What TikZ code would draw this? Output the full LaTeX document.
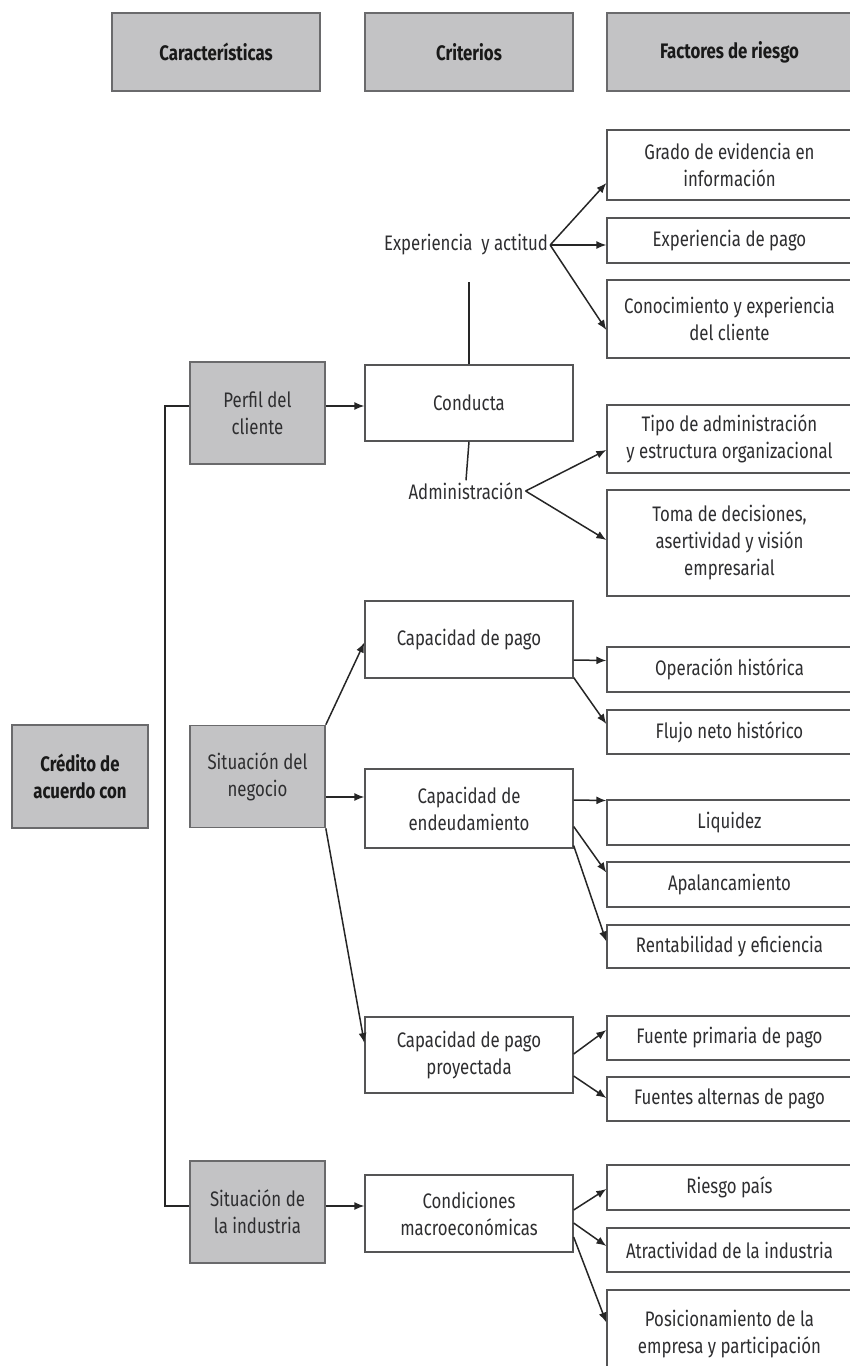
\documentclass[tikz,border=0pt]{standalone}
\usepackage{fontspec}
\setmainfont[FakeStretch=0.8]{Fira Sans}
\usetikzlibrary{arrows.meta,calc}
\definecolor{boxgray}{HTML}{C3C3C5}
\definecolor{edgegray}{HTML}{6A6A6C}
\definecolor{txt}{HTML}{2E2E30}
\begin{document}
\begin{tikzpicture}[x=1pt,y=-1pt,
  every node/.style={font=\fontsize{21}{27}\selectfont, text=txt, align=center, inner sep=2pt},
  gbox/.style={draw=edgegray, line width=1.6pt, fill=boxgray},
  hdr/.style={gbox, font=\fontsize{21}{27}\selectfont\bfseries, text=black!90},
  wbox/.style={draw=edgegray!80!black, line width=1.3pt, fill=white},
  rbox/.style={wbox, minimum width=245},
  cbox/.style={wbox, minimum width=208},
  kbox/.style={gbox, minimum width=135, minimum height=102},
  arr/.style={-{Latex[length=10pt,width=8pt]}, line width=1.5pt, draw=black!85},
  ln/.style={line width=1.5pt, draw=black!85}
]
\useasboundingbox (0,0) rectangle (850,1366);
% headers
\node[hdr, minimum width=208, minimum height=78] (hcar) at (216,52) {Características};
\node[hdr, minimum width=208, minimum height=78] (hcri) at (469,52) {Criterios};
\node[hdr, minimum width=245, minimum height=78] (hfac) at (729.5,52) {Factores de riesgo};
% characteristics
\node[hdr, minimum width=136, minimum height=103] (credito) at (80,776.5) {Crédito de\\acuerdo con};
\node[kbox] (perfil) at (257.5,413) {Perfil del\\cliente};
\node[kbox] (sitneg) at (257.5,776.5) {Situación del\\negocio};
\node[kbox] (sitind) at (257.5,1212) {Situación de\\la industria};
% criteria
\node[cbox, minimum height=76] (conducta) at (469,403) {Conducta};
\node[cbox, minimum height=77] (cappago) at (469,639.5) {Capacidad de pago};
\node[cbox, minimum height=79] (capend) at (469,808.5) {Capacidad de\\endeudamiento};
\node[cbox, minimum height=76] (cappro) at (469,1055) {Capacidad de pago\\proyectada};
\node[cbox, minimum height=77] (condmac) at (469,1213.5) {Condiciones\\macroeconómicas};
\node (expact) at (466,245) {Experiencia\ \ y actitud};
\node (admin) at (466,491) {Administración};
% risk factors
\node[rbox, minimum height=70] (grado) at (729.5,165) {Grado de evidencia en\\información};
\node[rbox, minimum height=45] (exppago) at (729.5,240.5) {Experiencia de pago};
\node[rbox, minimum height=78] (conoc) at (729.5,319) {Conocimiento y experiencia\\del cliente};
\node[rbox, minimum height=68] (tipo) at (729.5,439) {Tipo de administración\\y estructura organizacional};
\node[rbox, minimum height=106] (toma) at (729.5,543) {Toma de decisiones,\\asertividad y visión\\empresarial};
\node[rbox, minimum height=45] (operacion) at (729.5,669.5) {Operación histórica};
\node[rbox, minimum height=44] (flujo) at (729.5,732) {Flujo neto histórico};
\node[rbox, minimum height=45] (liquidez) at (729.5,822.5) {Liquidez};
\node[rbox, minimum height=45] (apal) at (729.5,884.5) {Apalancamiento};
\node[rbox, minimum height=43] (rent) at (729.5,946.5) {Rentabilidad y eficiencia};
\node[rbox, minimum height=44] (fprim) at (729.5,1038) {Fuente primaria de pago};
\node[rbox, minimum height=44] (falt) at (729.5,1099) {Fuentes alternas de pago};
\node[rbox, minimum height=45] (riesgo) at (729.5,1187.5) {Riesgo país};
\node[rbox, minimum height=44] (atract) at (729.5,1250) {Atractividad de la industria};
\node[rbox, minimum height=84, text depth=0pt] (posic) at (729.5,1332) {Posicionamiento de la\\empresa y participación};
% connectors
\draw[ln] ($(perfil.west)+(0,-7)$) -- ++(-24,0) |- ($(sitind.west)+(0,-6)$);
\draw[arr] ($(perfil.east)+(0,-7)$) -- ($(conducta.west)+(0,3)$);
\draw[arr] ($(sitind.east)+(0,-6)$) -- ($(condmac.west)+(0,-7.5)$);
\draw[ln] (conducta.north) -- ++(0,-82);
\draw[ln] (conducta.south) -- (admin.north);
\draw[arr] (expact.east) -- ($(grado.west)+(0,18)$);
\draw[arr] (expact.east) -- ($(exppago.west)+(0,4.5)$);
\draw[arr] (expact.east) -- ($(conoc.west)+(0,11)$);
\draw[arr] (admin.east) -- ($(tipo.west)+(0,11)$);
\draw[arr] (admin.east) -- ($(toma.west)+(0,-3)$);
\draw[arr] (sitneg.north east) -- ($(cappago.west)+(0,3)$);
\draw[arr] ($(sitneg.east)+(0,20.5)$) -- ($(capend.west)+(0,-11.5)$);
\draw[arr] (sitneg.south east) -- ($(cappro.west)+(0,-12)$);
\draw[arr] ($(cappago.east)+(0,20.5)$) -- ($(operacion.west)+(0,-9)$);
\draw[arr] ($(cappago.east)+(0,38)$) -- ($(flujo.west)+(0,-8)$);
\draw[arr] ($(capend.east)+(0,-8.5)$) -- ($(liquidez.west)+(0,-22)$);
\draw[arr] ($(capend.east)+(0,18)$) -- ($(apal.west)+(0,-12)$);
\draw[arr] ($(capend.east)+(0,37)$) -- ($(rent.west)+(0,-5)$);
\draw[arr] ($(cappro.east)+(0,-1)$) -- ($(fprim.west)+(0,-8)$);
\draw[arr] ($(cappro.east)+(0,21)$) -- ($(falt.west)+(0,-1)$);
\draw[arr] ($(condmac.east)+(0,-3.5)$) -- ($(riesgo.west)+(0,1.5)$);
\draw[arr] ($(condmac.east)+(0,9.5)$) -- ($(atract.west)+(0,-4)$);
\draw[arr] ($(condmac.east)+(0,23.5)$) -- ($(posic.west)+(0,-9.5)$);
\end{tikzpicture}
\end{document}
